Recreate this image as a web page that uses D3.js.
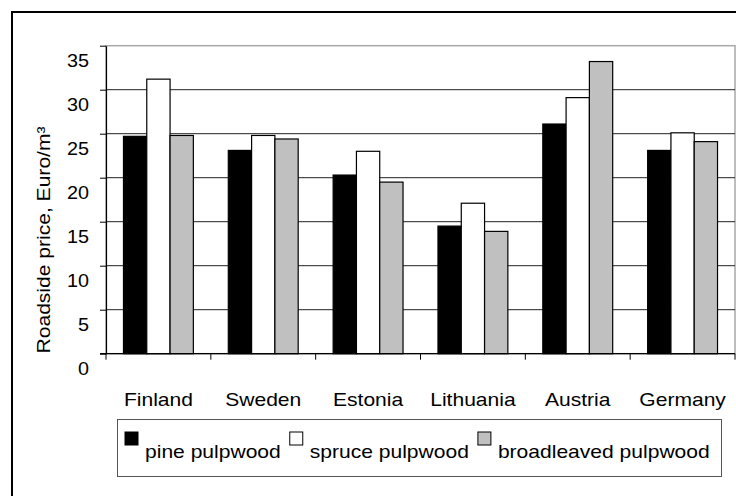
<!DOCTYPE html>
<html>
<head>
<meta charset="utf-8">
<script src="https://cdn.jsdelivr.net/npm/d3@7"></script>
<style>
  html, body { margin: 0; padding: 0; background: #fff; }
  svg { display: block; }
  text { font-family: Arial, "Liberation Sans", sans-serif; fill: #000; }
</style>
</head>
<body>
<svg id="chart" width="736" height="496"></svg>
<script>
// Roadside pulpwood prices by country (Euro per cubic metre)
const categories = ["Finland", "Sweden", "Estonia", "Lithuania", "Austria", "Germany"];
const seriesNames = ["pine pulpwood", "spruce pulpwood", "broadleaved pulpwood"];
const pine = [24.7, 23.1, 20.3, 14.5, 26.1, 23.1];
const spruce = [31.2, 24.8, 23.0, 17.1, 29.1, 25.1];
const broadleaved = [24.8, 24.4, 19.5, 13.9, 33.2, 24.1];
const yTicks = [0, 5, 10, 15, 20, 25, 30, 35];
const yTitle = "Roadside price, Euro/m³";

const seriesValues = [pine, spruce, broadleaved];
const fills = ["#000000", "#ffffff", "#c0c0c0"];

const FONT = 18;
const STRETCH = 1.17;      // labels are set slightly wide
const TICK_STRETCH = 1.1;

const svg = d3.select("#chart");

// chart frame
svg.append("rect")
  .attr("x", 12).attr("y", 12)
  .attr("width", 760).attr("height", 520)
  .attr("fill", "#fff").attr("stroke", "#000").attr("stroke-width", 2);

const plot = { left: 106, right: 735, top: 45.7, bottom: 353.7 };

const x0 = d3.scaleBand().domain(categories).range([plot.left, plot.right]).padding(0);
const x1 = d3.scaleBand().domain(d3.range(seriesNames.length))
  .range([0, x0.bandwidth()]).paddingInner(0).paddingOuter(0.75);
const y = d3.scaleLinear().domain([0, 35]).range([plot.bottom, plot.top]);

// plot area border
svg.append("rect")
  .attr("x", plot.left).attr("y", plot.top)
  .attr("width", plot.right - plot.left).attr("height", plot.bottom - plot.top)
  .attr("fill", "none").attr("stroke", "#a8a8a8").attr("stroke-width", 1.5);

// horizontal gridlines
svg.append("g").selectAll("line")
  .data(yTicks.filter(t => t > 0 && t < 35))
  .join("line")
  .attr("x1", plot.left).attr("x2", plot.right)
  .attr("y1", d => y(d)).attr("y2", d => y(d))
  .attr("stroke", "#222").attr("stroke-width", 1);

// bars
const rows = categories.map((c, i) => ({ c, vals: seriesValues.map(s => s[i]) }));
svg.append("g").selectAll("g")
  .data(rows)
  .join("g")
  .attr("transform", d => `translate(${x0(d.c)},0)`)
  .selectAll("rect")
  .data(d => d.vals.map((v, k) => ({ v, k })))
  .join("rect")
  .attr("x", d => x1(d.k))
  .attr("width", x1.bandwidth())
  .attr("y", d => y(d.v))
  .attr("height", d => y(0) - y(d.v))
  .attr("fill", d => fills[d.k])
  .attr("stroke", "#000").attr("stroke-width", 1.2);

// y axis
const yAxis = svg.append("g")
  .attr("transform", `translate(${plot.left},0)`)
  .call(d3.axisLeft(y).tickValues(yTicks).tickSize(6).tickSizeOuter(0));
yAxis.select(".domain").attr("stroke", "#000").attr("stroke-width", 1.2);
yAxis.selectAll(".tick line").attr("stroke", "#000");
yAxis.selectAll(".tick text")
  .attr("x", 0).attr("dy", null)
  .attr("transform", `translate(-17,21) scale(${TICK_STRETCH},1)`)
  .attr("text-anchor", "end")
  .style("font-size", FONT + "px")
  .style("font-family", "Arial, 'Liberation Sans', sans-serif");

// x axis line with category boundary ticks
const xg = svg.append("g");
xg.append("line")
  .attr("x1", plot.left - 6).attr("x2", plot.right)
  .attr("y1", y(0)).attr("y2", y(0))
  .attr("stroke", "#000").attr("stroke-width", 1.2);
const bounds = categories.map(c => x0(c)).concat([x0.range()[1]]);
xg.selectAll("line.tick")
  .data(bounds)
  .join("line")
  .attr("class", "tick")
  .attr("x1", d => d).attr("x2", d => d)
  .attr("y1", y(0)).attr("y2", y(0) + 6)
  .attr("stroke", "#000");
xg.selectAll("text")
  .data(categories)
  .join("text")
  .attr("transform", d => `translate(${x0(d) + x0.bandwidth() / 2},406) scale(${STRETCH},1)`)
  .attr("text-anchor", "middle")
  .style("font-size", FONT + "px")
  .text(d => d);

// y axis title
svg.append("text")
  .attr("transform", `translate(50,240) rotate(-90) scale(${STRETCH},1)`)
  .attr("text-anchor", "middle")
  .style("font-size", FONT + "px")
  .text(yTitle);

// legend
const legend = svg.append("g");
legend.append("rect")
  .attr("x", 117.5).attr("y", 419.5)
  .attr("width", 604).attr("height", 57)
  .attr("fill", "#fff").attr("stroke", "#555").attr("stroke-width", 1);
let lx = 125;
seriesNames.forEach((name, k) => {
  legend.append("rect")
    .attr("x", lx).attr("y", 432)
    .attr("width", 13).attr("height", 13)
    .attr("fill", fills[k]).attr("stroke", "#000").attr("stroke-width", 1);
  const t = legend.append("text")
    .attr("transform", `translate(${lx + 20},457.5) scale(${STRETCH},1)`)
    .style("font-size", FONT + "px")
    .text(name);
  lx = lx + 20 + t.node().getComputedTextLength() * STRETCH + 9;
});
</script>
</body>
</html>
